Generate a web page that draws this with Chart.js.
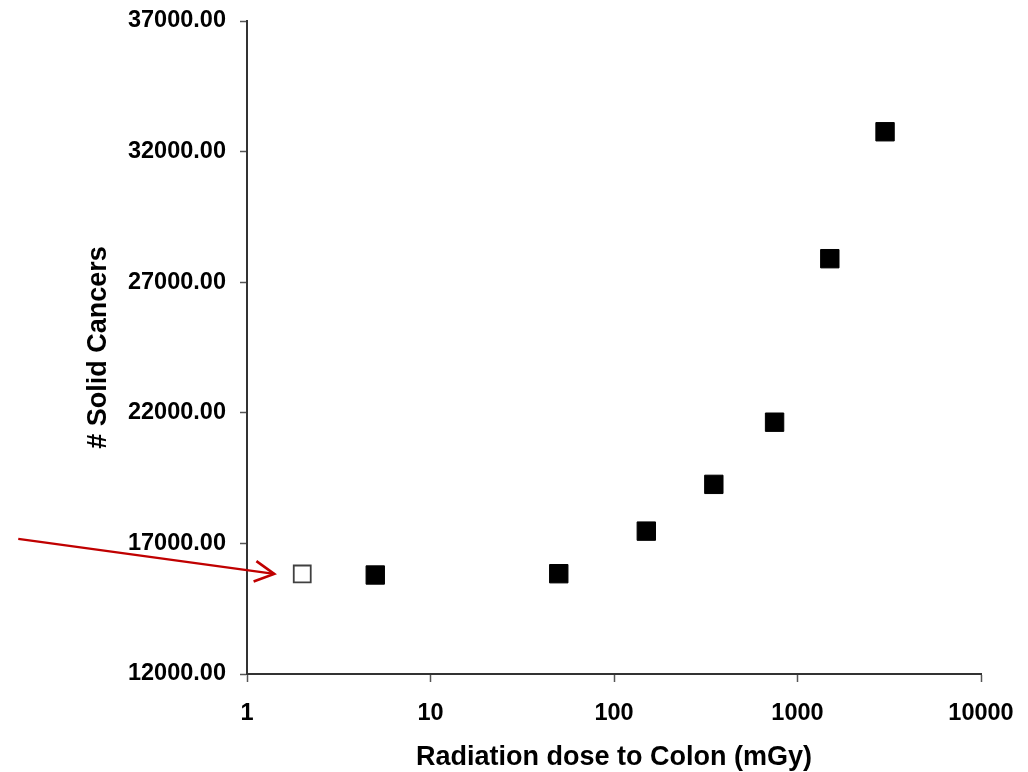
<!DOCTYPE html>
<html>
<head>
<meta charset="utf-8">
<script src="https://cdn.jsdelivr.net/npm/chart.js@4/dist/chart.umd.min.js"></script>
<style>
  html, body { margin: 0; padding: 0; background: #fff; }
  #wrap { width: 1028px; height: 772px; position: relative; }
</style>
</head>
<body>
<div id="wrap"><canvas id="chart"></canvas></div>
<script>
// dose to colon (mGy) and number of solid cancers
const baselineDose = [2];
const baselineCancers = [15830];
const doses = [5, 50, 150, 350, 750, 1500, 3000];
const cancers = [15790, 15840, 17470, 19260, 21640, 27900, 32760];
const xTicks = [1, 10, 100, 1000, 10000];
const yMin = 12000, yMax = 37000, yStep = 5000;

const toPoints = (xs, ys) => xs.map((x, i) => ({ x, y: ys[i] }));

// red arrow pointing at the open (baseline) square
const arrowPlugin = {
  id: 'arrow',
  afterDatasetsDraw(chart) {
    const pt = chart.getDatasetMeta(0).data[0];
    if (!pt) return;
    const ctx = chart.ctx;
    const tx = pt.x - 28, ty = pt.y;
    const sx = tx - 256, sy = ty - 35;
    const ang = Math.atan2(ty - sy, tx - sx);
    const head = 22;
    ctx.save();
    ctx.strokeStyle = '#c00000';
    ctx.lineWidth = 2.2;
    ctx.beginPath();
    ctx.moveTo(sx, sy);
    ctx.lineTo(tx, ty);
    ctx.stroke();
    ctx.lineWidth = 2.6;
    ctx.beginPath();
    ctx.moveTo(tx - head * Math.cos(ang - 0.49), ty - head * Math.sin(ang - 0.49));
    ctx.lineTo(tx, ty);
    ctx.lineTo(tx - head * Math.cos(ang + 0.49), ty - head * Math.sin(ang + 0.49));
    ctx.stroke();
    ctx.restore();
  }
};

const tickFont = { family: '"Liberation Sans", Arial, sans-serif', size: 23.5, weight: 'bold' };
const titleFont = { family: '"Liberation Sans", Arial, sans-serif', size: 27, weight: 'bold' };

new Chart(document.getElementById('chart'), {
  type: 'scatter',
  data: {
    datasets: [
      { data: toPoints(baselineDose, baselineCancers), pointStyle: 'rect', pointRadius: 12, pointHoverRadius: 12,
        backgroundColor: '#ffffff', borderColor: '#404040', borderWidth: 1.8 },
      { data: toPoints(doses, cancers), pointStyle: 'rect', pointRadius: 13, pointHoverRadius: 13,
        backgroundColor: '#000000', borderColor: '#000000', borderWidth: 1 },
    ],
  },
  options: {
    responsive: true,
    maintainAspectRatio: false,
    animation: false,
    layout: { padding: { top: 21, right: 47, bottom: 0, left: 0 } },
    plugins: { legend: { display: false }, tooltip: { enabled: false } },
    scales: {
      x: {
        type: 'logarithmic',
        min: xTicks[0],
        max: xTicks[xTicks.length - 1],
        afterBuildTicks: (s) => { s.ticks = xTicks.map((v) => ({ value: v })); },
        afterFit: (s) => { s.height = 98; s.paddingLeft = 0; s.paddingRight = 0; },
        ticks: { color: '#000', font: tickFont, padding: 17, maxRotation: 0, callback: (v) => String(v) },
        grid: { display: true, drawOnChartArea: false, drawTicks: true, tickLength: 8, tickColor: '#555', tickWidth: 1.5 },
        border: { display: true, color: '#333', width: 2 },
        title: { display: true, text: 'Radiation dose to Colon (mGy)', color: '#000', font: titleFont, padding: { top: 0, bottom: -2 } },
      },
      y: {
        min: yMin,
        max: yMax,
        afterFit: (s) => { s.width = 247; s.paddingTop = 0; s.paddingBottom = 0; },
        ticks: { stepSize: yStep, color: '#000', font: tickFont, padding: 14, callback: (v) => Number(v).toFixed(2) },
        grid: { display: true, drawOnChartArea: false, drawTicks: true, tickLength: 7, tickColor: '#555', tickWidth: 1.5 },
        border: { display: true, color: '#333', width: 2 },
        title: { display: true, text: '# Solid Cancers', color: '#000', font: titleFont, padding: { top: 82, bottom: 0 } },
      },
    },
  },
  plugins: [arrowPlugin],
});
</script>
</body>
</html>
